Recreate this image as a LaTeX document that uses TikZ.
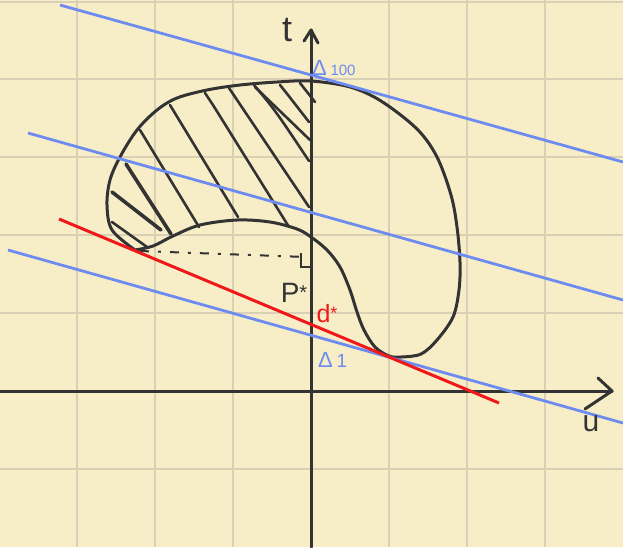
\documentclass[tikz,border=0pt]{standalone}
\usepackage{fontspec}
\setmainfont{Liberation Sans}
\definecolor{bg}{RGB}{247,238,200}
\definecolor{gridc}{RGB}{218,208,182}
\definecolor{ink}{RGB}{51,51,51}
\definecolor{blu}{RGB}{110,140,240}
\definecolor{rd}{RGB}{240,24,24}
\begin{document}
\begin{tikzpicture}[x=1pt,y=-1pt,
  gridline/.style={gridc, line width=2pt},
  axisline/.style={ink, line width=3pt, line cap=round, line join=round},
  bean/.style={ink, line width=3pt, line join=round, line cap=round},
  hatch/.style={ink, line width=2.6pt, line cap=round},
  thickhatch/.style={ink, line width=3.6pt, line cap=round},
  level/.style={blu, line width=2.8pt},
  optline/.style={rd, line width=3pt},
  lab/.style={inner sep=0pt, text=ink}]
\fill[bg] (0,0) rectangle (623,547);
\useasboundingbox (0,0) rectangle (623,547);
% grid
\foreach \x in {77,155,233,389,467,545} \draw[gridline] (\x,0) -- (\x,547);
\foreach \y in {2,79,157,235,313,469} \draw[gridline] (0,\y) -- (623,\y);
% bean shaped set
\draw[bean] plot[smooth, tension=0.55] coordinates {(135,250) (112,230) (107,205) (110,180) (120,157) (137,130) (157,110) (177,98) (207,90) (240,85) (277,82) (311,81) (350,87) (381,101) (417,129) (437,157) (451,195) (457,227) (460,262) (459,290) (453,317) (437,340) (421,354) (401,357) (389,356) (375,347) (364,330) (357,312) (350,290) (340,267) (327,250) (311,237) (297,229) (270,222) (237,220) (200,225) (173,236) (153,246) (135,250)};
% hatching
\draw[hatch] (300,83) -- (315,102);
\draw[hatch] (280,85) -- (288,95) -- (309,122);
\draw[hatch] (255,87) -- (310,140);
\draw[hatch] (254,85) .. controls (275,110) .. (309,161);
\draw[hatch] (229,88) -- (309,207);
\draw[hatch] (205,93) -- (213,105) -- (289,227);
\draw[hatch] (170,105) -- (238,217);
\draw[hatch] (140,130) -- (199,227);
\draw[thickhatch] (126,164) -- (171,234);
\draw[thickhatch] (112,192) -- (161,230);
\draw[hatch] (112,222) -- (147,247);
% dashed horizontal to the axis
\draw[ink, line width=2pt, dash pattern=on 9pt off 9pt on 3pt off 9pt] (140,251) -- (306,257);
\draw[ink, line width=2pt] (301,253) -- (301,267) -- (310,267);
% axes
\coordinate (O) at (311,391);
\coordinate (uend) at (612,391);
\coordinate (tend) at (311,30);
\draw[axisline] (0,391) -- (uend);
\draw[axisline] (598,378) -- (uend) -- (585,409);
\draw[axisline] (311,547) -- (tend);
\draw[axisline] (304,41) -- (tend) -- (318,43);
% level lines
\draw[level] (60,5) -- (623,162);
\draw[level] (28,133) -- (623,300);
\draw[level] (8,250) -- (623,423);
% optimal line
\draw[optline] (59,219) -- (499,403);
% labels
\node[lab, font=\fontsize{36}{36}\selectfont] (tlab) at (287,30) {t};
\node[lab, font=\fontsize{30}{30}\selectfont] (ulab) at (591,424) {u};
\node[lab, text=blu, anchor=west] (d100) at (312,68) {\fontsize{22}{22}\selectfont Δ\,\fontsize{15}{15}\selectfont 100};
\node[lab, text=blu, anchor=west] (d1) at (318,360) {\fontsize{22}{22}\selectfont Δ\,\fontsize{19}{19}\selectfont 1};
\node[lab, font=\fontsize{28}{28}\selectfont] (pstar) at (294,293) {P\raisebox{3pt}{\fontsize{20}{20}\selectfont *}};
\node[lab, text=rd, font=\fontsize{25}{25}\selectfont] (dstar) at (327,314) {d\raisebox{3pt}{\fontsize{18}{18}\selectfont *}};
\end{tikzpicture}
\end{document}
